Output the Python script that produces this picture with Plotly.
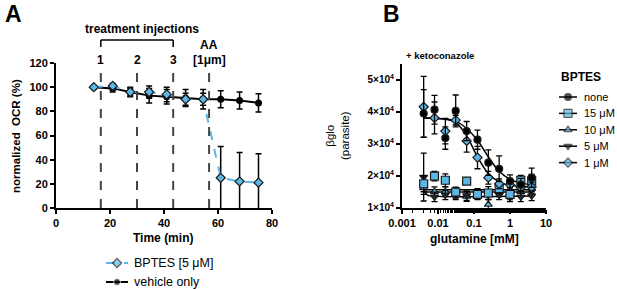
import plotly.graph_objects as go

# ---------------- Panel A data ----------------
time_min = [14, 21, 27.5, 34.5, 41, 48, 54.5, 61, 68, 75]
vehicle = [100, 99, 96, 93, 92, 91, 90, 90, 89, 87]
vehicle_err = [0, 3, 4, 6, 6, 7, 8, 7, 7, 7.5]
bptes = [100, 101, 96, 96, 94, 90, 90, 25, 22, 21]
bptes_err = [0, 2, 3, 5, 6, 5, 5, 26, 24, 24]
injection_times = [16.6, 30, 43.4, 56.7]
injection_labels = ["1", "2", "3", ""]

# ---------------- Panel B data ----------------
glutamine = [0.004, 0.008, 0.016, 0.031, 0.0625, 0.125, 0.25, 0.5, 1, 2, 4]
none_v = [3.95, 4.07, 3.18, 4.03, 3.40, 3.13, 2.41, 2.22, 1.83, 1.72, 1.94]
none_e = [0.75, 0.45, 0.35, 0.5, 0.3, 0.3, 0.4, 0.4, 0.2, 0.2, 0.3]
b15_v = [1.75, 1.99, 1.86, 1.49, 1.83, 1.42, 1.46, 1.60, 1.42, 1.86, 1.84]
b15_e = [0.25, 0.15, 0.2, 0.15, 0.1, 0.15, 0.2, 0.15, 0.15, 0.15, 0.2]
b10_v = [1.62, 1.50, 1.50, 1.45, 1.35, 1.45, 1.10, 1.50, 1.35, 1.50, 1.60]
b10_e = [0.2, 0.15, 0.15, 0.15, 0.15, 0.15, 0.15, 0.15, 0.15, 0.15, 0.15]
b5_v = [1.96, 1.34, 1.40, 1.40, 1.38, 1.40, 1.40, 1.40, 1.34, 1.34, 1.37]
b5_e = [0.75, 0.15, 0.15, 0.15, 0.15, 0.15, 0.15, 0.15, 0.15, 0.15, 0.15]
b1_v = [4.16, 3.81, 3.40, 3.74, 3.09, 2.57, 1.94, 1.75, 1.72, 1.63, 1.65]
b1_e = [0.95, 0.5, 0.4, 0.15, 0.35, 0.35, 0.2, 0.15, 0.15, 0.1, 0.15]

# fitted curves
curve_none = [3.81, 3.80, 3.78, 3.71, 3.48, 3.11, 2.59, 2.14, 1.89, 1.77, 1.72]
curve_b1 = [3.81, 3.80, 3.77, 3.67, 3.25, 2.59, 2.07, 1.81, 1.70, 1.67, 1.66]
curve_b15 = [1.56] * 11
curve_b10 = [1.49] * 11
curve_b5_x = [0.004, 0.0045, 0.005, 0.006, 4]
curve_b5 = [1.60, 1.47, 1.40, 1.37, 1.37]
ytick_vals = [1, 2, 3, 4, 5]
ytick_text = ["1×10<sup>4</sup>", "2×10<sup>4</sup>", "3×10<sup>4</sup>", "4×10<sup>4</sup>", "5×10<sup>4</sup>"]

BLUE = "#5cb6e6"
FONT = "Arial, Liberation Sans, sans-serif"
W, H = 617, 289

fig = go.Figure()

errstyle = dict(type="data", color="black", thickness=1.5, width=3)
vehicle_style = dict(line=dict(color="black", width=2),
                     marker=dict(symbol="circle", size=7, color="black"))
bptes_style = dict(line=dict(color=BLUE, width=2, dash="dash"),
                   marker=dict(symbol="diamond", size=7, color=BLUE, line=dict(color="#1a1a1a", width=1.2)))

# Panel A traces
fig.add_trace(go.Scatter(x=time_min, y=vehicle, mode="lines+markers", name="vehicle only",
                         error_y=dict(array=vehicle_err, **errstyle), xaxis="x", yaxis="y", **vehicle_style))
fig.add_trace(go.Scatter(x=time_min, y=bptes, mode="lines+markers", name="BPTES [5 μM]",
                         error_y=dict(array=bptes_err, **errstyle), xaxis="x", yaxis="y", **bptes_style))

# Panel B curves
for cx, cy in [(glutamine, curve_none), (glutamine, curve_b1), (glutamine, curve_b15),
               (glutamine, curve_b10), (curve_b5_x, curve_b5)]:
    fig.add_trace(go.Scatter(x=cx, y=cy, mode="lines", line=dict(color="black", width=1.5, shape="spline"),
                             hoverinfo="skip", xaxis="x2", yaxis="y2"))

series_b = [
    ("none", none_v, none_e, "circle", "black"),
    ("15 μM", b15_v, b15_e, "square", BLUE),
    ("10 μM", b10_v, b10_e, "triangle-up", BLUE),
    ("5 μM", b5_v, b5_e, "triangle-down", "#1c2a36"),
    ("1 μM", b1_v, b1_e, "diamond", BLUE),
]
draw_order = [2, 3, 1, 4, 0]
for i in draw_order:
    name, v, e, sym, col = series_b[i]
    fig.add_trace(go.Scatter(
        x=glutamine, y=v, mode="markers", name=name,
        marker=dict(symbol=sym, size=7 if sym != "square" else 8, color=col, line=dict(color="#1a1a1a", width=1.2)),
        error_y=dict(array=e, type="data", color="black", thickness=1.3, width=3),
        xaxis="x2", yaxis="y2"))

# ---- legend keys drawn on a pixel-scaled overlay axis ----
def key(x0, x1, yy, line, marker):
    m = dict(marker)
    m["size"] = [0, marker.get("size", 7), 0]
    if "line" in marker:
        m["line"] = dict(color=marker["line"]["color"], width=[0, marker["line"]["width"], 0])
    fig.add_trace(go.Scatter(x=[x0, (x0 + x1) / 2, x1], y=[yy, yy, yy], mode="lines+markers",
                             line=line, marker=m, hoverinfo="skip", xaxis="x3", yaxis="y3"))

# Panel A legend
LEGA_ROWS = [263, 282]
LEGA_X0, LEGA_X1, LEGA_TX = 106, 128, 133
key(LEGA_X0, LEGA_X1, LEGA_ROWS[0], bptes_style["line"], bptes_style["marker"])
key(LEGA_X0, LEGA_X1, LEGA_ROWS[1], vehicle_style["line"], vehicle_style["marker"])

# Panel B legend
LEG_TOP, LEG_STEP, KEY_X0, KEY_X1, TEXT_X = 97, 16.4, 559, 577, 583
for row, (name, v, e, sym, col) in enumerate(series_b):
    key(KEY_X0, KEY_X1, LEG_TOP + row * LEG_STEP, dict(color="black", width=1.5),
        dict(symbol=sym, size=7 if sym != "square" else 8, color=col, line=dict(color="#1a1a1a", width=1.2)))

axfont = dict(family=FONT, size=11, color="black", weight="bold")
common = dict(showgrid=False, zeroline=False, showline=True, linecolor="black", linewidth=2,
              ticks="outside", ticklen=4, tickwidth=2, tickcolor="black", tickfont=axfont,
              automargin=False)

def px(x):
    return x / W

def py(y):
    return 1 - y / H

fig.update_layout(
    width=W, height=H, margin=dict(l=0, r=0, t=0, b=0, pad=0, autoexpand=False),
    paper_bgcolor="white", plot_bgcolor="rgba(0,0,0,0)", showlegend=False,
    font=dict(family=FONT, color="black"),
    xaxis=dict(domain=[px(56), px(272)], range=[0, 80], tickvals=[0, 20, 40, 60, 80],
               anchor="y", **common),
    yaxis=dict(domain=[py(208), py(63)], range=[0, 120], tickvals=[0, 20, 40, 60, 80, 100, 120],
               anchor="x", **common),
    xaxis2=dict(domain=[px(402), px(546)], type="log", range=[-3, 1],
                tickvals=[0.001, 0.01, 0.1, 1, 10], ticktext=["0.001", "0.01", "0.1", "1", "10"],
                minor=dict(ticks="outside", ticklen=3, tickwidth=1, tickcolor="black", showgrid=False),
                anchor="y2", **common),
    yaxis2=dict(domain=[py(207.7), py(64)], range=[1, 5.5], tickvals=ytick_vals, ticktext=ytick_text,
                anchor="x2", **{**common, "tickfont": dict(family=FONT, size=10, color="black", weight="bold")}),
    xaxis3=dict(domain=[0, 1], range=[0, W], visible=False, fixedrange=True, anchor="y3", automargin=False),
    yaxis3=dict(domain=[0, 1], range=[H, 0], visible=False, fixedrange=True, anchor="x3", automargin=False),
)

shapes = []
# vertical dashed injection lines
for t in injection_times:
    shapes.append(dict(type="line", xref="x", yref="paper", x0=t, x1=t, y0=py(208), y1=py(70),
                       line=dict(color="#444444", width=2, dash="dash")))
# bracket over treatment injections
shapes.append(dict(type="line", xref="x", yref="paper", x0=injection_times[0], x1=injection_times[2],
                   y0=py(40), y1=py(40), line=dict(color="black", width=1.5)))
for t in (injection_times[0], injection_times[2]):
    shapes.append(dict(type="line", xref="x", yref="paper", x0=t, x1=t, y0=py(40), y1=py(47),
                       line=dict(color="black", width=1.5)))
fig.update_layout(shapes=shapes)

ann = []
def add_text(text, x, y, size, bold=True, angle=0, xref="paper", xanchor="center"):
    ann.append(dict(text=text, x=x, y=py(y), xref=xref, yref="paper", showarrow=False,
                    xanchor=xanchor, yanchor="middle", textangle=angle, borderpad=0,
                    font=dict(family=FONT, size=size, color="black", weight="bold" if bold else "normal")))

add_text("A", px(13), 14, 23)
add_text("B", px(391), 14, 23)
add_text("treatment injections", px(142), 29, 12)
for t, lab in zip(injection_times, injection_labels):
    if lab:
        add_text(lab, t, 60, 12, xref="x")
add_text("AA", injection_times[3], 45, 12, xref="x")
add_text("[1μm]", injection_times[3], 60, 12, xref="x")
add_text("normalized  OCR (%)", px(16), 136, 11.5, angle=-90)
add_text("Time (min)", px(163), 238, 12)
add_text("+ ketoconazole", px(405), 55, 9.5, xanchor="left")
add_text("glutamine [mM]", px(474), 239, 12)
add_text("βglo<br>(parasite)", px(337), 136, 11.5, bold=False, angle=-90)
add_text("BPTES [5 μM]", px(LEGA_TX), LEGA_ROWS[0], 12.5, bold=False, xanchor="left")
add_text("vehicle only", px(LEGA_TX), LEGA_ROWS[1], 12.5, bold=False, xanchor="left")
add_text("BPTES", px(581), 77, 12)
for row, (name, v, e, sym, col) in enumerate(series_b):
    add_text(name, px(TEXT_X), LEG_TOP + row * LEG_STEP, 11, bold=False, xanchor="left")
fig.update_layout(annotations=ann)

fig.write_html("out.html", config={"displayModeBar": False},
               post_script="document.body.style.margin='0';document.body.style.overflow='hidden';")
